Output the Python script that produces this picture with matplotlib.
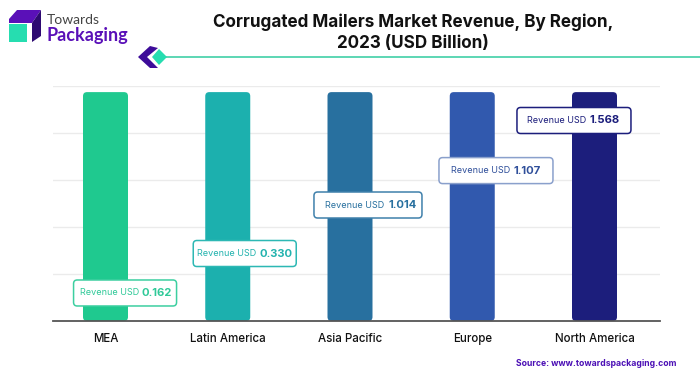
import matplotlib
matplotlib.use('Agg')
import matplotlib.pyplot as plt
from matplotlib.patches import FancyBboxPatch, Polygon

regions = ['MEA', 'Latin America', 'Asia Pacific', 'Europe', 'North America']
revenue = ['0.162', '0.330', '1.014', '1.107', '1.568']
bar_tops = [4.87, 4.87, 4.87, 4.87, 4.87]
bar_colors = ['#1FC98F', '#1CB0AE', '#28709F', '#3159AE', '#1C1E7C']
label_colors = ['#2FC998', '#22B3AE', '#28709F', '#2F4F9A', '#1C1E7C']
edge_colors = ['#3CCFA0', '#2DB8B4', '#3F80AB', '#8AA0CC', '#1C1E7C']
# box centres, relative to bar centre on x
label_x = [0.16, 0.139, 0.147, 0.194, -0.168]
label_y = [0.596, 1.436, 2.468, 3.20, 4.266]
box_px = [103, 103, 108, 114, 114]
pad_left = [6, 4, 11, 12, 10]
pad_right = [5, 4, 5, 12, 11]

W, H = 700, 376
plt.rcParams['font.family'] = ['Inter', 'DejaVu Sans']
fig = plt.figure(figsize=(W / 100, H / 100), dpi=100)

left, right, bottom, top = 53, 660, 321, 86
ax = fig.add_axes([left / W, 1 - bottom / H, (right - left) / W, (bottom - top) / H])
px_x = 122.25
px_y = 47.0
ax.set_xlim((left - 105.5) / px_x, (right - 105.5) / px_x)
ax.set_ylim(0, 5)
ax.set_yticks([1, 2, 3, 4, 5])
ax.set_yticklabels([])
ax.grid(axis='y', color='#EBEBEB', lw=1)
ax.set_axisbelow(True)
ax.tick_params(length=0, pad=15)
for s in ['top', 'left', 'right']:
    ax.spines[s].set_visible(False)
ax.spines['bottom'].set_color('#555555')
ax.spines['bottom'].set_linewidth(1.3)
ax.spines['bottom'].set_zorder(5)
ax.set_xticks(range(len(regions)))
ax.set_xticklabels(regions, fontsize=8.3, fontweight='medium', color='#111111', va='baseline')

bar_w = 45 / px_x
for i in range(len(regions)):
    p = FancyBboxPatch((i - bar_w / 2, 0.0), bar_w, bar_tops[i],
                       boxstyle='round,pad=0,rounding_size=0.033',
                       mutation_aspect=px_x / px_y,
                       fc=bar_colors[i], ec='none', zorder=2)
    ax.add_patch(p)

box_h = 26 / px_y
for i in range(len(regions)):
    xc = i + label_x[i]
    yc = label_y[i]
    bw = box_px[i] / px_x
    p = FancyBboxPatch((xc - bw / 2, yc - box_h / 2), bw, box_h,
                       boxstyle='round,pad=0,rounding_size=0.03',
                       mutation_aspect=px_x / px_y,
                       fc='white', ec=edge_colors[i], lw=1.1, zorder=4, clip_on=False)
    ax.add_patch(p)
    ax.annotate('Revenue USD', (xc, yc), xytext=(-box_px[i] / 2 + pad_left[i], 0),
                textcoords='offset pixels', ha='left', va='center',
                fontsize=6.5, color=label_colors[i], zorder=6)
    ax.annotate(revenue[i], (xc, yc), xytext=(box_px[i] / 2 - pad_right[i], 0),
                textcoords='offset pixels', ha='right', va='center',
                fontsize=8.1, fontweight='bold', color=label_colors[i], zorder=6)

fig.text(413 / W, 1 - 22 / H, 'Corrugated Mailers Market Revenue, By Region,',
         ha='center', va='center', fontsize=12.3, fontweight='bold', color='#111111')
fig.text(413 / W, 1 - 43 / H, '2023 (USD Billion)',
         ha='center', va='center', fontsize=12.3, fontweight='bold', color='#111111')
fig.text(677 / W, 1 - 363 / H, 'Source: www.towardspackaging.com',
         ha='right', va='center', fontsize=6.2, fontweight='bold', color='#4B0FB5')

# logo and rule drawn in pixel coordinates
deco = fig.add_axes([0, 0, 1, 1], facecolor='none')
deco.set_xlim(0, W)
deco.set_ylim(H, 0)
deco.axis('off')
deco.add_patch(Polygon([(9, 19), (17, 10), (41, 10), (32, 23), (9, 23)], fc='#5A10B8', ec='none'))
deco.add_patch(Polygon([(32, 23), (41, 10), (41, 36), (32, 42)], fc='#2E0A72', ec='none'))
deco.add_patch(Polygon([(9, 24), (27, 24), (27, 42), (9, 42)], fc='#26DDB0', ec='none'))
deco.add_patch(Polygon([(138, 57), (150, 46), (158, 48), (147, 57), (158, 68), (150, 68)],
                       fc='#3D0C99', ec='none'))
deco.plot([165, 700], [57, 57], color='#4FD3AE', lw=1.3)
deco.add_patch(Polygon([(152, 57), (159, 49), (167, 57), (159, 65)], fc='#26DDB0', ec='none', zorder=3))
deco.text(47, 20, 'Towards', ha='left', va='center', fontsize=10, color='#444444',
          family=['Lato', 'DejaVu Sans'])
deco.text(46, 36, 'Packaging', ha='left', va='center', fontsize=13, fontweight='bold',
          color='#5A10B8', family=['Lato', 'DejaVu Sans'])

fig.savefig('out.png', dpi=100)
